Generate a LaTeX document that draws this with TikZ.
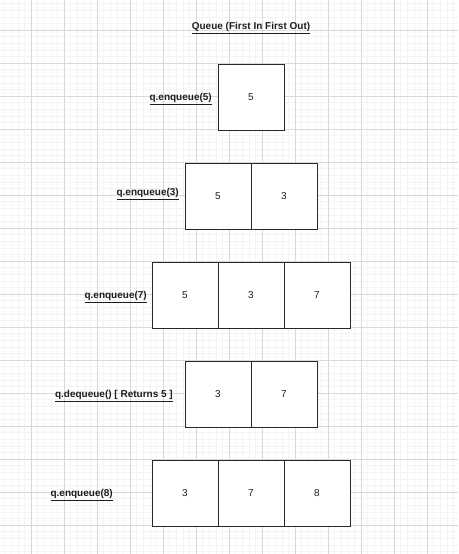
\documentclass[tikz,border=0pt]{standalone}
\usepackage{fontspec}
\setmainfont{Liberation Sans}
\usepackage{xcolor}
\usetikzlibrary{positioning}
\definecolor{rejillafina}{RGB}{244,244,244}
\definecolor{rejilla}{RGB}{216,216,216}
\definecolor{borde}{RGB}{40,40,40}
\definecolor{texto}{RGB}{30,30,30}

\begin{document}
\begin{tikzpicture}[
        x=1pt, y=-1pt,
        node distance=0pt,
        cell/.style={rectangle, draw=borde, line width=0.9pt, fill=white, minimum size=66pt, inner sep=0pt, outer sep=0pt, text=texto, font=\fontsize{10}{12}\selectfont},
        op/.style={inner sep=0pt, text=texto, font=\bfseries\fontsize{10}{12}\selectfont},
        titulo/.style={inner sep=0pt, text=texto, font=\bfseries\fontsize{10}{12}\selectfont}
    ]
        \useasboundingbox (0,0) rectangle (458,554);

        % rejilla de fondo
        \foreach \k in {0,...,70} {
            \draw[rejillafina, line width=0.5pt] ({-2+6.6*\k},0) -- ({-2+6.6*\k},554);
        }
        \foreach \k in {0,...,85} {
            \draw[rejillafina, line width=0.5pt] (0,{-3+6.6*\k}) -- (458,{-3+6.6*\k});
        }
        \foreach \k in {0,...,14} {
            \draw[rejilla, line width=0.7pt] ({-2+33*\k},0) -- ({-2+33*\k},554);
        }
        \foreach \k in {0,...,17} {
            \draw[rejilla, line width=0.7pt] (0,{-3+33*\k}) -- (458,{-3+33*\k});
        }

        \node[titulo] (titulo) at (251,28) {\underline{Queue (First In First Out)}};

        % enqueue 5
        \node[cell] (a1) at (251,97) {5};
        \node[op, left=6pt of a1, yshift=-2pt] (op1) {\underline{q.enqueue(5)}};

        % enqueue 3
        \node[cell] (b1) at (218,196) {5};
        \node[cell, right=of b1] (b2) {3};
        \node[op, left=6pt of b1, yshift=2pt] (op2) {\underline{q.enqueue(3)}};

        % enqueue 7
        \node[cell] (c1) at (185,295) {5};
        \node[cell, right=of c1] (c2) {3};
        \node[cell, right=of c2] (c3) {7};
        \node[op, left=5pt of c1, yshift=-2pt] (op3) {\underline{q.enqueue(7)}};

        % dequeue
        \node[cell] (d1) at (218,394) {3};
        \node[cell, right=of d1] (d2) {7};
        \node[op, left=12pt of d1, yshift=-2pt] (op4) {\underline{q.dequeue() [ Returns 5 ]}};

        % enqueue 8
        \node[cell] (e1) at (185,493) {3};
        \node[cell, right=of e1] (e2) {7};
        \node[cell, right=of e2] (e3) {8};
        \node[op, left=39pt of e1, yshift=-2pt] (op5) {\underline{q.enqueue(8)}};
    \end{tikzpicture}
\end{document}
